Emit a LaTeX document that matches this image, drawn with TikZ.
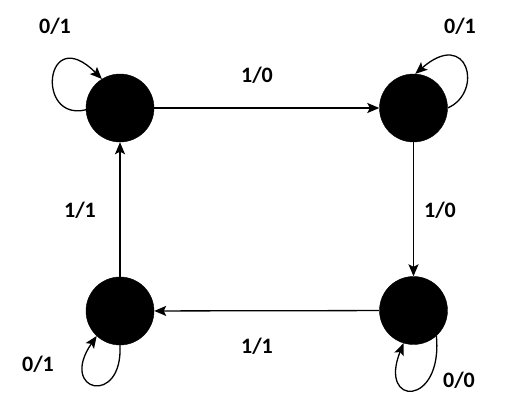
\documentclass[tikz,border=0pt]{standalone}
\usepackage{fontspec}
\setmainfont{Carlito}
\usetikzlibrary{arrows.meta}
\begin{document}
\begin{tikzpicture}[x=1pt,y=-1pt,
  state/.style={circle,fill=black,draw=black,minimum size=68pt,inner sep=0pt},
  edge/.style={line width=1.3pt,-{Stealth[length=12pt,width=10pt,inset=2.5pt]}},
  lbl/.style={font=\fontsize{22}{24}\selectfont\bfseries,inner sep=0pt}]
\useasboundingbox[fill=white] (0,0) rectangle (507,418);
\node[state] (tl) at (120,108) {};
\node[state] (tr) at (413.5,108) {};
\node[state] (bl) at (120,311) {};
\node[state] (br) at (413.5,310.5) {};
\draw[edge] (tl) -- (tr);
\draw[edge] (tr) -- (br);
\draw[edge] (br) -- (bl);
\draw[edge] (bl) -- (tl);
\draw[edge] (tl.183) .. controls (35,122) and (45,22) .. (tl.122);
\draw[edge] (tr.0) .. controls (484,92) and (468,28) .. (tr.87);
\draw[edge] (bl.270) .. controls (123,407) and (58,392) .. (bl.227);
\draw[edge] (br.312) .. controls (443,407) and (378,407) .. (br.253);
\node[lbl] (l1) at (257,75) {1/0};
\node[lbl] (l2) at (440,210) {1/0};
\node[lbl] (l3) at (257,346) {1/1};
\node[lbl] (l4) at (80,210) {1/1};
\node[lbl] (l5) at (55,26) {0/1};
\node[lbl] (l6) at (460,26) {0/1};
\node[lbl] (l7) at (38,364) {0/1};
\node[lbl] (l8) at (459,380) {0/0};
\end{tikzpicture}
\end{document}
